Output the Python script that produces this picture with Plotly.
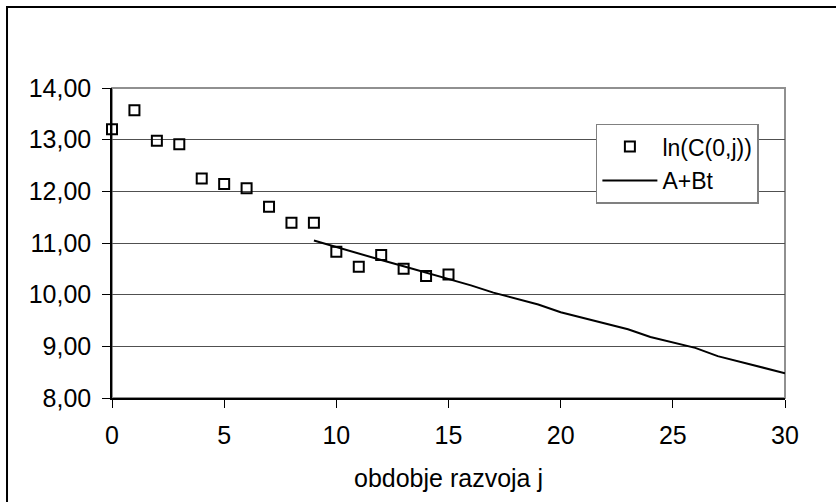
import plotly.graph_objects as go

# Observed data: ln(C(0,j))
obs_j = [0, 1, 2, 3, 4, 5, 6, 7, 8, 9, 10, 11, 12, 13, 14, 15]
obs_ln = [13.20, 13.57, 12.98, 12.91, 12.25, 12.14, 12.06, 11.70, 11.39, 11.39,
          10.83, 10.54, 10.77, 10.50, 10.36, 10.39]

# Fitted line A+Bt
fit_t = [9, 10, 11, 12, 13, 14, 15, 16, 17, 18, 19, 20, 21, 22, 23, 24, 25, 26, 27, 28, 29, 30]
fit_v = [11.05, 10.92, 10.79, 10.67, 10.55, 10.43, 10.31, 10.18, 10.04, 9.93, 9.81,
         9.66, 9.55, 9.44, 9.33, 9.18, 9.08, 8.97, 8.81, 8.70, 8.59, 8.48]

x_ticks = [0, 5, 10, 15, 20, 25, 30]
y_ticks = [8, 9, 10, 11, 12, 13, 14]
y_tick_labels = ["8,00", "9,00", "10,00", "11,00", "12,00", "13,00", "14,00"]

FONT = "Liberation Sans, Arial, sans-serif"
FS = 25

fig = go.Figure()
fig.add_trace(go.Scatter(
    x=obs_j, y=obs_ln, mode="markers", name="ln(C(0,j))",
    legendgroup="a",
    marker=dict(symbol="square-open", size=10, color="black", line=dict(width=2, color="black")),
    cliponaxis=False,
))
fig.add_trace(go.Scatter(
    x=fit_t, y=fit_v, mode="lines", name="A+Bt",
    legendgroup="b",
    line=dict(color="black", width=2),
))

fig.update_layout(
    width=836, height=502,
    margin=dict(l=112, r=51, t=88, b=104),
    paper_bgcolor="white", plot_bgcolor="white",
    font=dict(family=FONT, size=FS, color="black"),
    showlegend=True,
    legend=dict(
        x=0.719, y=0.885, xanchor="left", yanchor="top",
        bgcolor="white", bordercolor="#808080", borderwidth=1.5,
        font=dict(family=FONT, size=23, color="black"),
        tracegroupgap=1, itemwidth=55,
    ),
    xaxis=dict(
        range=[0, 30], tickvals=x_ticks, ticktext=[str(v) for v in x_ticks],
        showgrid=False, zeroline=False,
        showline=True, linecolor="black", linewidth=1.5,
        ticks="outside", ticklen=8, tickcolor="black", tickwidth=1,
        ticklabelstandoff=6,
        title=dict(text="obdobje razvoja j", font=dict(family=FONT, size=FS), standoff=22),
    ),
    yaxis=dict(
        range=[8, 14], tickvals=y_ticks, ticktext=y_tick_labels,
        showgrid=True, gridcolor="#505050", gridwidth=1,
        zeroline=False,
        showline=True, linecolor="black", linewidth=1.5,
        ticks="outside", ticklen=8, tickcolor="black", tickwidth=1,
        ticklabelstandoff=6,
    ),
    shapes=[
        # plot-area border (top / right, gray)
        dict(type="rect", xref="paper", yref="paper", x0=0, y0=0, x1=1, y1=1,
             line=dict(color="#909090", width=2), layer="below"),
        # outer chart frame
        dict(type="rect", xref="paper", yref="paper", x0=-0.156, y0=-0.35, x1=1.09, y1=1.261,
             line=dict(color="black", width=2)),
    ],
)

fig.write_html("out.html")
